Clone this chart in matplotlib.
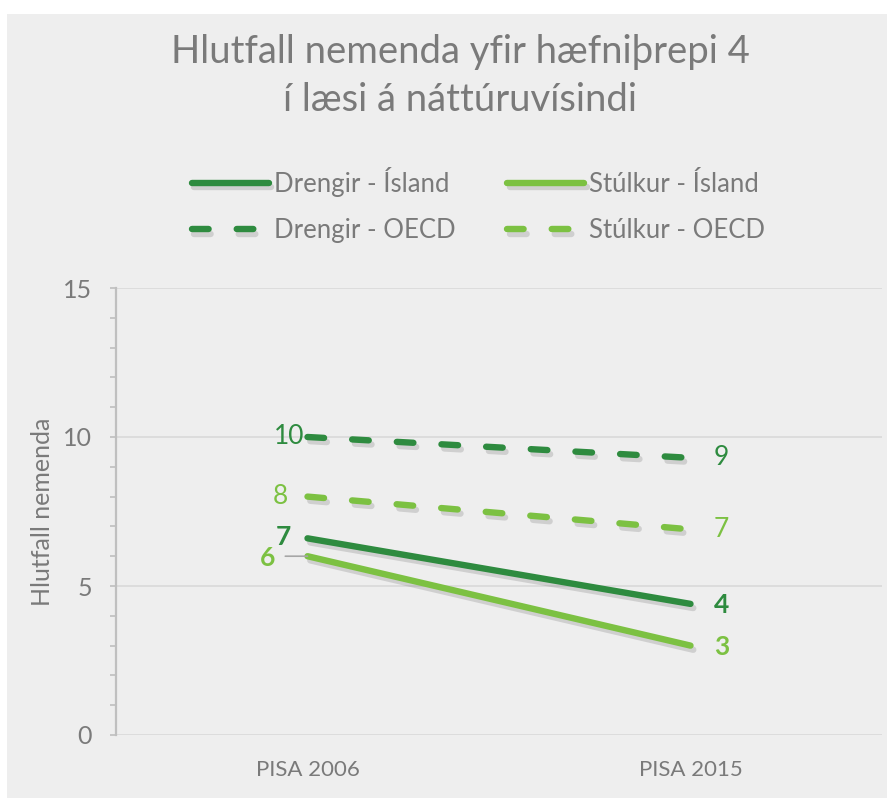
import numpy as np
import matplotlib.pyplot as plt
from matplotlib import patheffects
from matplotlib.patches import Rectangle

plt.rcParams['font.family'] = ['Lato', 'DejaVu Sans']

# data
years = ['PISA 2006', 'PISA 2015']
drengir_island = [6.6, 4.4]
stulkur_island = [6.0, 3.0]
drengir_oecd = [10.0, 9.3]
stulkur_oecd = [8.0, 6.9]
lbl_drengir_island = ['7', '4']
lbl_stulkur_island = ['6', '3']
lbl_drengir_oecd = ['10', '9']
lbl_stulkur_oecd = ['8', '7']

dark = '#2E8B3F'
light = '#7CC142'
grey_txt = '#7A7A7A'
bg = '#EEEEEE'

fig = plt.figure(figsize=(8.94, 8.05), dpi=100)
fig.patch.set_facecolor('white')
fig.patches.append(Rectangle((7 / 894, 7 / 805), 880 / 894, 784 / 805,
                             transform=fig.transFigure, facecolor=bg,
                             edgecolor='none', zorder=-10))

ax = fig.add_axes([116 / 894, 1 - 735 / 805, (882 - 116) / 894, (735 - 288) / 805])
ax.set_facecolor(bg)

x = np.arange(len(years))
shadow = [patheffects.SimpleLineShadow(offset=(2, -3), shadow_color='#555555', alpha=0.2),
          patheffects.Normal()]

lw = 4.6
ax.plot(x, drengir_island, color=dark, lw=lw, solid_capstyle='round',
        path_effects=shadow, label='Drengir - Ísland', zorder=3)
ax.plot(x, drengir_oecd, color=dark, lw=lw, dashes=(2.6, 4.4), dash_capstyle='round',
        path_effects=shadow, label='Drengir - OECD', zorder=3)
ax.plot(x, stulkur_island, color=light, lw=lw, solid_capstyle='round',
        path_effects=shadow, label='Stúlkur - Ísland', zorder=3)
ax.plot(x, stulkur_oecd, color=light, lw=lw, dashes=(2.6, 4.4), dash_capstyle='round',
        path_effects=shadow, label='Stúlkur - OECD', zorder=3)

ax.set_xlim(-0.5, 1.5)
ax.set_ylim(0, 15)
ax.set_xticks(x)
ax.set_xticklabels(years, fontsize=16, color=grey_txt)
ax.set_yticks([0, 5, 10, 15])
ax.set_yticks(np.arange(0, 16, 1), minor=True)
ax.tick_params(axis='y', which='both', direction='out', color='#BFBFBF',
               labelsize=18, labelcolor=grey_txt, pad=13)
ax.tick_params(axis='y', which='major', length=4.5, width=1.2)
ax.tick_params(axis='y', which='minor', length=4.5, width=1.2)
ax.tick_params(axis='x', length=0, pad=18)
ax.grid(axis='y', which='major', color='#D9D9D9', lw=1.2)
ax.set_axisbelow(True)
for s in ['top', 'right', 'bottom']:
    ax.spines[s].set_visible(False)
ax.spines['left'].set_color('#BFBFBF')
ax.spines['left'].set_linewidth(1.6)
ax.set_ylabel('Hlutfall nemenda', fontsize=18, color=grey_txt, labelpad=6)

# data labels
def label(vals, texts, color, bold, left_off, right_off):
    w = 'bold' if bold else 'normal'
    ax.annotate(texts[0], (0, vals[0]), xytext=left_off, textcoords='offset points',
                ha='right', va='center', fontsize=19, color=color, fontweight=w)
    ax.annotate(texts[1], (1, vals[1]), xytext=right_off, textcoords='offset points',
                ha='left', va='center', fontsize=19, color=color, fontweight=w)

label(drengir_oecd, lbl_drengir_oecd, dark, False, (-2, 0), (17, 0))
label(stulkur_oecd, lbl_stulkur_oecd, light, False, (-14, 0), (17, 0))
label(drengir_island, lbl_drengir_island, dark, True, (-12, 1), (17, -1))
label(stulkur_island, lbl_stulkur_island, light, True, (-23, -1), (17, -1))
# leader line for the "6" label
ax.annotate('', (0, stulkur_island[0]), xytext=(-16, 0), textcoords='offset points',
            arrowprops=dict(arrowstyle='-', color='#A6A6A6', lw=1.2, shrinkA=0, shrinkB=0))

fig.text(0.515, 1 - 52 / 805, 'Hlutfall nemenda yfir hæfniþrepi 4', ha='center', va='center',
         fontsize=27.5, color=grey_txt)
fig.text(0.515, 1 - 100 / 805, 'í læsi á náttúruvísindi', ha='center', va='center',
         fontsize=27.5, color=grey_txt)

leg = fig.legend(loc='center', bbox_to_anchor=(0.535, 1 - 205 / 805), ncol=2, frameon=False,
                 fontsize=18.5, labelcolor=grey_txt, handlelength=3.0, handletextpad=0.2,
                 columnspacing=2.0, labelspacing=0.85)

plt.savefig('out.png', dpi=100, facecolor=fig.get_facecolor())
